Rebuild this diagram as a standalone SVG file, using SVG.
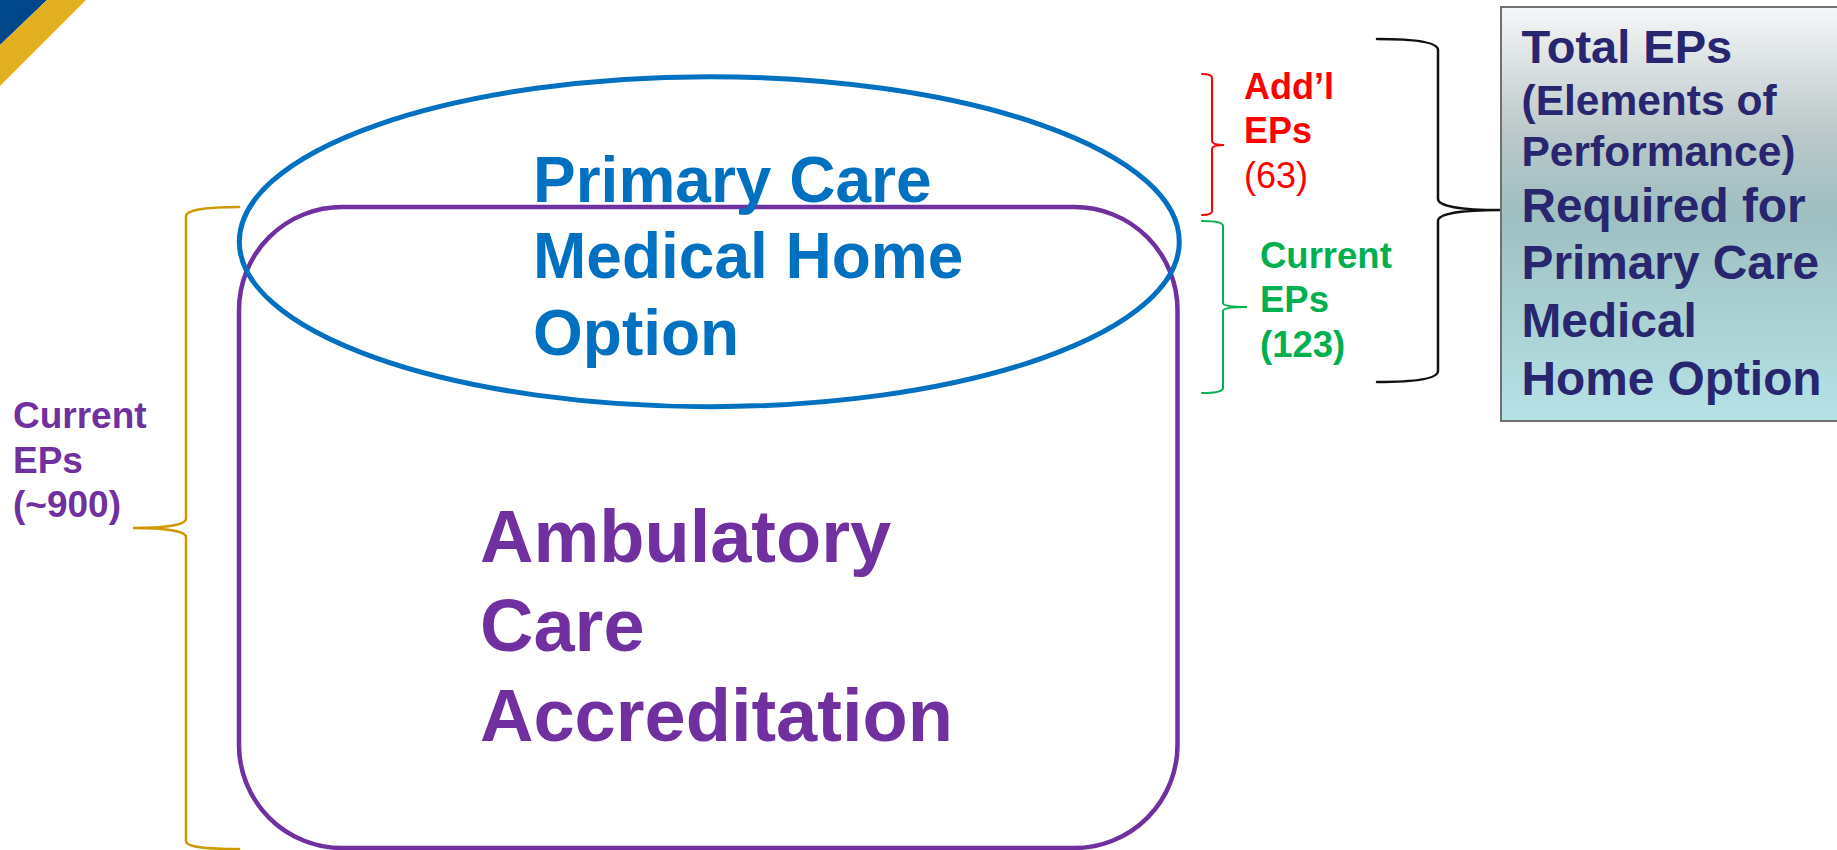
<svg xmlns="http://www.w3.org/2000/svg" width="1837" height="850" viewBox="0 0 1837 850">
<defs>
<linearGradient id="boxGrad" x1="0" y1="0" x2="0" y2="1">
<stop offset="0" stop-color="#f6f7f8"/>
<stop offset="0.3" stop-color="#bcc8ca"/>
<stop offset="0.5" stop-color="#9ebfc1"/>
<stop offset="1" stop-color="#b6e2e6"/>
</linearGradient>
<style>
text{font-family:"Liberation Sans",Arial,sans-serif;font-weight:bold}
.brace{fill:none;stroke-linecap:round}
.blue{fill:#0070C0}
.purple{fill:#7030A0}
.navy{fill:#27266F}
</style>
</defs>
<rect width="1837" height="850" fill="#ffffff"/>
<g id="corner-stripe">
<polygon points="0,0 47,0 0,45" fill="#00468B"/>
<polygon points="47,0 86,0 0,86 0,45" fill="#E2B021"/>
</g>
<g id="ambulatory-care">
<rect x="239" y="207" width="938.5" height="641" rx="103" ry="103" fill="none" stroke="#7030A0" stroke-width="4.5"/>
<text class="purple" font-size="74" x="480" y="562">Ambulatory</text>
<text class="purple" font-size="74" x="480" y="651">Care</text>
<text class="purple" font-size="74" x="480" y="741">Accreditation</text>
</g>
<g id="primary-care-medical-home">
<ellipse cx="709.3" cy="241.7" rx="470" ry="165" fill="none" stroke="#0070C0" stroke-width="5"/>
<text class="blue" font-size="64" x="533" y="202">Primary Care</text>
<text class="blue" font-size="64" x="533" y="278">Medical Home</text>
<text class="blue" font-size="64" x="533" y="355">Option</text>
</g>
<g id="connectors">
<path class="brace" stroke="#CC9900" stroke-width="2.5" d="M239,207 C205,207 186,210 186,216 L186,519 C186,525 165,528 133,528 C165,528 186,531 186,537 L186,841 C186,847 205,849 239,849"/>
<path class="brace" stroke="#FF0000" stroke-width="2" d="M1202,74 C1208,74 1212,75 1212,78 L1212,141 C1212,144 1218,145 1224,145 C1218,145 1212,146 1212,149 L1212,211 C1212,214 1208,215 1202,215"/>
<path class="brace" stroke="#00B050" stroke-width="2" d="M1202,221 C1214,221 1223,222 1223,226 L1223,303 C1223,306 1235,307 1247,307 C1235,307 1223,308 1223,311 L1223,388 C1223,392 1214,393 1202,393"/>
<path class="brace" stroke="#111111" stroke-width="2.5" d="M1377,39 C1420,39 1438,43 1438,50 L1438,199 C1438,206 1460,210 1500,210 C1460,210 1438,214 1438,221 L1438,371 C1438,378 1420,382 1377,382"/>
</g>
<g id="current-eps-900">
<text class="purple" font-size="37" x="13" y="428">Current</text>
<text class="purple" font-size="37" x="13" y="473">EPs</text>
<text class="purple" font-size="37" x="13" y="517">(~900)</text>
</g>
<g id="addl-eps-63">
<text fill="#FF0000" font-size="36" x="1244" y="99">Add’l</text>
<text fill="#FF0000" font-size="36" x="1244" y="143">EPs</text>
<text fill="#FF0000" font-size="36" font-weight="normal" style="font-weight:normal" x="1244" y="188">(63)</text>
</g>
<g id="current-eps-123">
<text fill="#00B050" font-size="36.5" x="1260" y="268">Current</text>
<text fill="#00B050" font-size="36.5" x="1260" y="312">EPs</text>
<text fill="#00B050" font-size="36.5" x="1260" y="357">(123)</text>
</g>
<g id="total-eps">
<rect x="1501" y="7" width="345" height="414" fill="url(#boxGrad)" stroke="#707070" stroke-width="2"/>
<text class="navy" font-size="47" x="1521.5" y="63">Total EPs</text>
<text class="navy" font-size="42.5" x="1521.5" y="115">(Elements of</text>
<text class="navy" font-size="42.5" x="1521.5" y="166">Performance)</text>
<text class="navy" font-size="47.8" x="1521.5" y="222">Required for</text>
<text class="navy" font-size="47.8" x="1521.5" y="279">Primary Care</text>
<text class="navy" font-size="47.8" x="1521.5" y="337">Medical</text>
<text class="navy" font-size="47.8" x="1521.5" y="395">Home Option</text>
</g>
</svg>
